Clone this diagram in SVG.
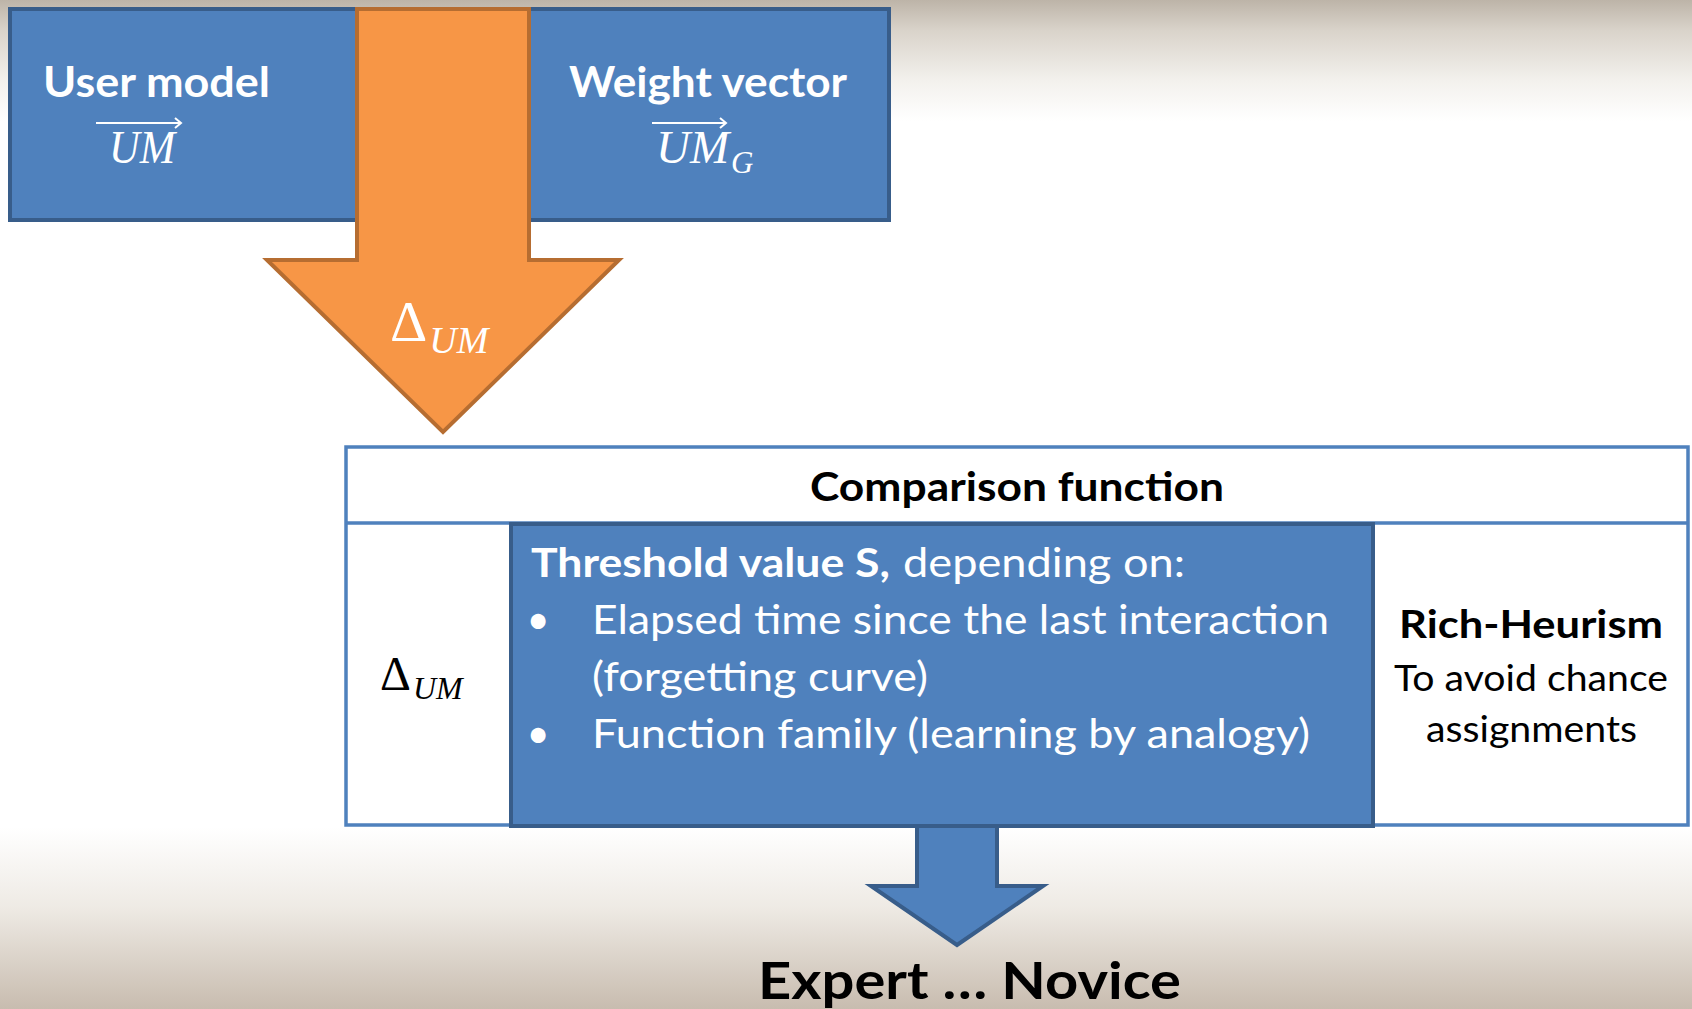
<svg xmlns="http://www.w3.org/2000/svg" width="1692" height="1009" viewBox="0 0 1692 1009">
  <defs>
    <linearGradient id="bg" x1="0" y1="0" x2="0" y2="1">
      <stop offset="0" stop-color="#bdb4a8"/>
      <stop offset="0.03" stop-color="#d9d3ca"/>
      <stop offset="0.08" stop-color="#f3f1ed"/>
      <stop offset="0.12" stop-color="#ffffff"/>
      <stop offset="0.82" stop-color="#ffffff"/>
      <stop offset="0.9" stop-color="#eeeae4"/>
      <stop offset="1" stop-color="#c8bcaf"/>
    </linearGradient>
  </defs>
  <style>
    .blue { fill: #4f81bd; stroke: #385d8a; stroke-width: 4; }
    .orange { fill: #f79646; stroke: #b66d31; stroke-width: 4; stroke-linejoin: miter; }
    .table { fill: #ffffff; stroke: #4f81bd; stroke-width: 3.5; }
    .sans { font-family: Lato, "Open Sans", "Liberation Sans", sans-serif; }
    .b { font-weight: bold; }
    .w { fill: #ffffff; }
    .k { fill: #000000; }
    .math { font-family: "Liberation Serif", "DejaVu Serif", serif; }
    .it { font-style: italic; }
    .vec { stroke: #ffffff; stroke-width: 2; fill: none; }
  </style>
  <rect x="0" y="0" width="1692" height="1009" fill="url(#bg)"/>

  <g id="user-model">
    <rect class="blue" x="10" y="9" width="360" height="211"/>
    <text class="sans b w" x="43" y="97" font-size="42" textLength="227" lengthAdjust="spacingAndGlyphs">User model</text>
    <path class="vec" d="M96,123 H181 M175,118 L181,123 L175,128"/>
    <text class="math it w" x="109" y="163" font-size="47" textLength="66" lengthAdjust="spacingAndGlyphs">UM</text>
  </g>

  <g id="weight-vector">
    <rect class="blue" x="520" y="9" width="369" height="211"/>
    <text class="sans b w" x="569" y="97" font-size="42" textLength="278" lengthAdjust="spacingAndGlyphs">Weight vector</text>
    <path class="vec" d="M652,123 H726 M720,118 L726,123 L720,128"/>
    <text class="math it w" x="656" y="163" font-size="47">UM<tspan font-size="31" dx="2" dy="10">G</tspan></text>
  </g>

  <g id="connectors">
    <polygon class="orange" points="357,9 529,9 529,260 619,260 443,432 267,260 357,260"/>
    <text class="math w" x="390" y="341" font-size="58">Δ<tspan class="it" font-size="38" dx="2" dy="12">UM</tspan></text>
    <polygon class="blue" points="917,824 997,824 997,886 1043,886 957,945 871,886 917,886"/>
  </g>

  <g id="comparison-function">
    <rect class="table" x="346" y="447" width="1342" height="378"/>
    <line x1="346" y1="523" x2="1688" y2="523" stroke="#4f81bd" stroke-width="3.5"/>
    <text class="sans b k" x="810" y="501" font-size="40" textLength="414" lengthAdjust="spacingAndGlyphs">Comparison function</text>
  </g>

  <g id="delta-cell">
    <text class="math k" x="380" y="690" font-size="48">Δ<tspan class="it" font-size="32" dx="2" dy="9">UM</tspan></text>
  </g>

  <g id="threshold">
    <rect class="blue" x="511" y="524" width="862" height="302"/>
    <text class="sans b w" x="531" y="577" font-size="40" textLength="359" lengthAdjust="spacingAndGlyphs">Threshold value S,</text>
    <text class="sans w" x="903" y="577" font-size="40" textLength="282" lengthAdjust="spacingAndGlyphs">depending on:</text>
    <text class="sans w" x="538" y="634" font-size="40" text-anchor="middle">•</text>
    <text class="sans w" x="592" y="634" font-size="40" textLength="737" lengthAdjust="spacingAndGlyphs">Elapsed time since the last interaction</text>
    <text class="sans w" x="592" y="691" font-size="40" textLength="336" lengthAdjust="spacingAndGlyphs">(forgetting curve)</text>
    <text class="sans w" x="538" y="748" font-size="40" text-anchor="middle">•</text>
    <text class="sans w" x="592" y="748" font-size="40" textLength="718" lengthAdjust="spacingAndGlyphs">Function family (learning by analogy)</text>
  </g>

  <g id="rich-heurism">
    <text class="sans b k" x="1399" y="638" font-size="39" textLength="264" lengthAdjust="spacingAndGlyphs">Rich-Heurism</text>
    <text class="sans k" x="1394" y="691" font-size="36" textLength="274" lengthAdjust="spacingAndGlyphs">To avoid chance</text>
    <text class="sans k" x="1426" y="742" font-size="36" textLength="211" lengthAdjust="spacingAndGlyphs">assignments</text>
  </g>

  <g id="result">
    <text class="sans b k" x="758" y="999" font-size="52" textLength="423" lengthAdjust="spacingAndGlyphs">Expert … Novice</text>
  </g>
</svg>
